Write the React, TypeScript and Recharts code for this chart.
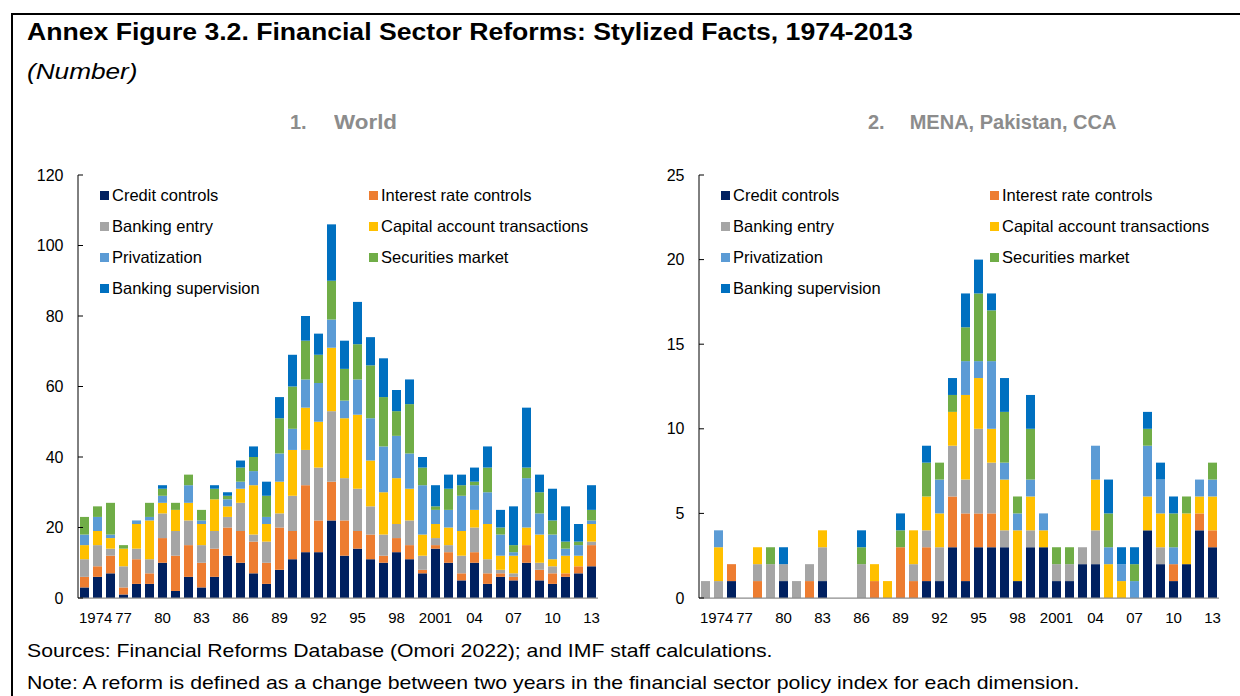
import React from 'react';
import { BarChart, Bar, XAxis, YAxis, Legend } from 'recharts';

const years = [
  '1974', '1975', '1976', '1977', '1978', '1979', '1980', '1981', '1982', '1983',
  '1984', '1985', '1986', '1987', '1988', '1989', '1990', '1991', '1992', '1993',
  '1994', '1995', '1996', '1997', '1998', '1999', '2000', '2001', '2002', '2003',
  '2004', '2005', '2006', '2007', '2008', '2009', '2010', '2011', '2012', '2013',
];

const seriesKeys = ['credit', 'interest', 'entry', 'capital', 'privatization', 'securities', 'supervision'];
const seriesNames = [
  'Credit controls',
  'Interest rate controls',
  'Banking entry',
  'Capital account transactions',
  'Privatization',
  'Securities market',
  'Banking supervision',
];
const seriesColors = ['#002060', '#ED7D31', '#A5A5A5', '#FFC000', '#5B9BD5', '#70AD47', '#0070C0'];

// Panel 1: World
const worldCredit = [3, 6, 7, 1, 4, 4, 10, 2, 6, 3, 6, 12, 10, 7, 4, 8, 11, 13, 13, 22, 12, 14, 11, 10, 13, 11, 7, 14, 10, 5, 10, 4, 6, 5, 10, 5, 4, 6, 7, 9];
const worldInterest = [3, 3, 5, 2, 7, 3, 7, 10, 9, 7, 8, 8, 9, 9, 6, 12, 8, 19, 9, 11, 10, 5, 7, 2, 4, 4, 1, 1, 3, 2, 3, 3, 1, 1, 5, 3, 3, 1, 2, 6];
const worldEntry = [5, 6, 2, 6, 3, 4, 7, 7, 7, 5, 5, 3, 8, 2, 6, 4, 10, 10, 15, 20, 12, 12, 8, 6, 4, 7, 4, 2, 2, 5, 7, 4, 1, 1, 0, 2, 2, 0, 0, 1];
const worldCapital = [4, 4, 3, 5, 7, 11, 3, 6, 5, 6, 9, 3, 4, 14, 5, 9, 13, 12, 13, 18, 17, 21, 13, 12, 13, 9, 6, 4, 5, 7, 5, 10, 4, 5, 5, 8, 2, 5, 3, 5];
const worldPrivatization = [3, 4, 1, 0, 1, 1, 2, 0, 5, 1, 0, 2, 2, 4, 2, 8, 6, 8, 11, 8, 5, 10, 12, 13, 12, 10, 14, 4, 5, 10, 7, 9, 6, 1, 14, 6, 7, 2, 3, 1];
const worldSecurities = [5, 3, 9, 1, 0, 4, 2, 2, 3, 3, 3, 1, 4, 4, 6, 10, 12, 11, 8, 11, 9, 10, 15, 14, 7, 14, 5, 1, 6, 3, 1, 7, 2, 2, 3, 6, 4, 2, 1, 3];
const worldSupervision = [0, 0, 0, 0, 0, 0, 1, 0, 0, 0, 1, 1, 2, 3, 4, 6, 9, 7, 6, 16, 8, 12, 8, 11, 6, 7, 3, 6, 4, 3, 4, 6, 5, 11, 17, 5, 9, 10, 5, 7];

// Panel 2: MENA, Pakistan, CCA
const menaCredit = [0, 0, 1, 0, 0, 0, 1, 0, 0, 1, 0, 0, 0, 0, 0, 0, 0, 1, 1, 3, 1, 3, 3, 3, 1, 3, 3, 1, 1, 2, 2, 0, 0, 0, 4, 2, 1, 2, 4, 3];
const menaInterest = [0, 0, 1, 0, 1, 0, 0, 0, 1, 0, 0, 0, 0, 1, 0, 3, 1, 2, 0, 3, 4, 2, 2, 0, 0, 0, 0, 0, 0, 0, 0, 0, 0, 0, 0, 0, 1, 0, 1, 1];
const menaEntry = [1, 1, 0, 0, 1, 2, 1, 1, 1, 2, 0, 0, 2, 0, 0, 0, 1, 1, 2, 3, 2, 5, 3, 1, 0, 1, 0, 1, 1, 1, 2, 0, 0, 0, 0, 1, 0, 0, 0, 0];
const menaCapital = [0, 2, 0, 0, 1, 0, 0, 0, 0, 1, 0, 0, 0, 1, 1, 0, 2, 2, 2, 2, 5, 3, 2, 3, 3, 2, 1, 0, 0, 0, 3, 2, 1, 0, 2, 2, 0, 3, 1, 2];
const menaPrivatization = [0, 1, 0, 0, 0, 0, 0, 0, 0, 0, 0, 0, 0, 0, 0, 0, 0, 0, 2, 0, 2, 1, 4, 1, 1, 1, 1, 0, 0, 0, 2, 1, 1, 1, 3, 2, 1, 0, 1, 1];
const menaSecurities = [0, 0, 0, 0, 0, 1, 0, 0, 0, 0, 0, 0, 1, 0, 0, 1, 0, 2, 1, 1, 2, 4, 3, 3, 1, 3, 0, 1, 1, 0, 0, 2, 0, 1, 1, 0, 2, 1, 0, 1];
const menaSupervision = [0, 0, 0, 0, 0, 0, 1, 0, 0, 0, 0, 0, 1, 0, 0, 1, 0, 1, 0, 1, 2, 2, 1, 2, 0, 2, 0, 0, 0, 0, 0, 2, 1, 1, 1, 1, 1, 0, 0, 0];

const worldTicks = [0, 20, 40, 60, 80, 100, 120];
const menaTicks = [0, 5, 10, 15, 20, 25];

const FONT = '"Liberation Sans", Arial, Helvetica, sans-serif';

function buildRows(cols: number[][]) {
  return years.map((y, i) => {
    const row: Record<string, string | number> = { year: y };
    seriesKeys.forEach((k, j) => {
      row[k] = cols[j][i];
    });
    return row;
  });
}

const worldRows = buildRows([worldCredit, worldInterest, worldEntry, worldCapital, worldPrivatization, worldSecurities, worldSupervision]);
const menaRows = buildRows([menaCredit, menaInterest, menaEntry, menaCapital, menaPrivatization, menaSecurities, menaSupervision]);

const formatYear = (v: string) => (v === '1974' || v === '2001' ? v : String(v).slice(2));

const YearTick = (props: any) => {
  const { x, y, payload } = props;
  const v = String(payload.value);
  const first = v === years[0];
  return (
    <text
      x={first ? x - 5.5 : x}
      y={y}
      dy="0.71em"
      textAnchor={first ? 'start' : 'middle'}
      fill="#000"
      fontSize={15}
      fontFamily={FONT}
    >
      {formatYear(v)}
    </text>
  );
};

const LegendBox = () => (
  <div
    style={{
      display: 'grid',
      gridTemplateColumns: '269px 262px',
      gridAutoRows: '31px',
      fontSize: 16.5,
      fontFamily: FONT,
      color: '#000',
    }}
  >
    {seriesNames.map((n, i) => (
      <div key={n} style={{ display: 'flex', alignItems: 'center', whiteSpace: 'nowrap' }}>
        <span style={{ width: 9, height: 9, background: seriesColors[i], marginRight: 3, display: 'inline-block', flex: 'none' }} />
        <span>{n}</span>
      </div>
    ))}
  </div>
);

function Panel({ rows, domain, ticks, left }: { rows: any[]; domain: [number, number]; ticks: number[]; left: number }) {
  return (
    <div style={{ position: 'absolute', left, top: 0 }}>
      <BarChart width={612} height={640} data={rows} margin={{ top: 175, right: 14, bottom: 10, left: 0 }} barSize={9}>
        <XAxis
          dataKey="year"
          interval={2}
          tickLine={false}
          tickSize={0}
          tickMargin={14}
          height={32}
          axisLine={{ stroke: '#8c8c8c', strokeWidth: 1.25 }}
          tick={<YearTick />}
        />
        <YAxis
          type="number"
          domain={domain}
          ticks={ticks}
          interval={0}
          width={78}
          tickSize={-5}
          tickMargin={19.5}
          axisLine={{ stroke: '#000', strokeWidth: 1 }}
          tickLine={{ stroke: '#000', strokeWidth: 1 }}
          tick={{ fill: '#000', fontSize: 16, fontFamily: FONT }}
          allowDataOverflow
        />
        <Legend
          layout="vertical"
          align="center"
          verticalAlign="middle"
          content={<LegendBox />}
          wrapperStyle={{ left: 100, top: 180, width: 540, height: 124 }}
        />
        {seriesKeys.map((k, i) => (
          <Bar key={k} dataKey={k} name={seriesNames[i]} stackId="a" fill={seriesColors[i]} isAnimationActive={false} />
        ))}
      </BarChart>
    </div>
  );
}

export default function App() {
  const textBase: React.CSSProperties = {
    position: 'absolute',
    fontFamily: FONT,
    lineHeight: 1,
    whiteSpace: 'nowrap',
    color: '#000',
    transformOrigin: 'left center',
  };
  return (
    <div style={{ position: 'fixed', left: 0, top: 0, width: 1240, height: 696, overflow: 'hidden', background: '#fff', fontFamily: FONT }}>
      <div style={{ position: 'absolute', left: 11, top: 13, width: 1240, height: 800, borderLeft: '2px solid #000', borderTop: '2px solid #000' }} />
      <div style={{ ...textBase, left: 27, top: 20.5, fontSize: 23, fontWeight: 700, transform: 'scaleX(1.157)' }}>
        Annex Figure 3.2. Financial Sector Reforms: Stylized Facts, 1974-2013
      </div>
      <div style={{ ...textBase, left: 27, top: 61, fontSize: 22, fontStyle: 'italic', transform: 'scaleX(1.19)' }}>(Number)</div>
      <div style={{ ...textBase, left: 290, top: 112, fontSize: 20, fontWeight: 700, color: '#8c8c8c' }}>
        1.<span style={{ display: 'inline-block', width: 27 }} />
        <span style={{ display: 'inline-block', transform: 'scaleX(1.12)', transformOrigin: 'left center' }}>World</span>
      </div>
      <div style={{ ...textBase, left: 868, top: 112, fontSize: 20, fontWeight: 700, color: '#8c8c8c' }}>
        2.<span style={{ display: 'inline-block', width: 25 }} />MENA, Pakistan, CCA
      </div>
      <Panel rows={worldRows} domain={[0, 120]} ticks={worldTicks} left={0} />
      <Panel rows={menaRows} domain={[0, 25]} ticks={menaTicks} left={621} />
      <div style={{ ...textBase, left: 27, top: 641.5, fontSize: 18.5, transform: 'scaleX(1.146)' }}>
        Sources: Financial Reforms Database (Omori 2022); and IMF staff calculations.
      </div>
      <div style={{ ...textBase, left: 27, top: 673.5, fontSize: 18.5, transform: 'scaleX(1.15)' }}>
        Note: A reform is defined as a change between two years in the financial sector policy index for each dimension.
      </div>
    </div>
  );
}
